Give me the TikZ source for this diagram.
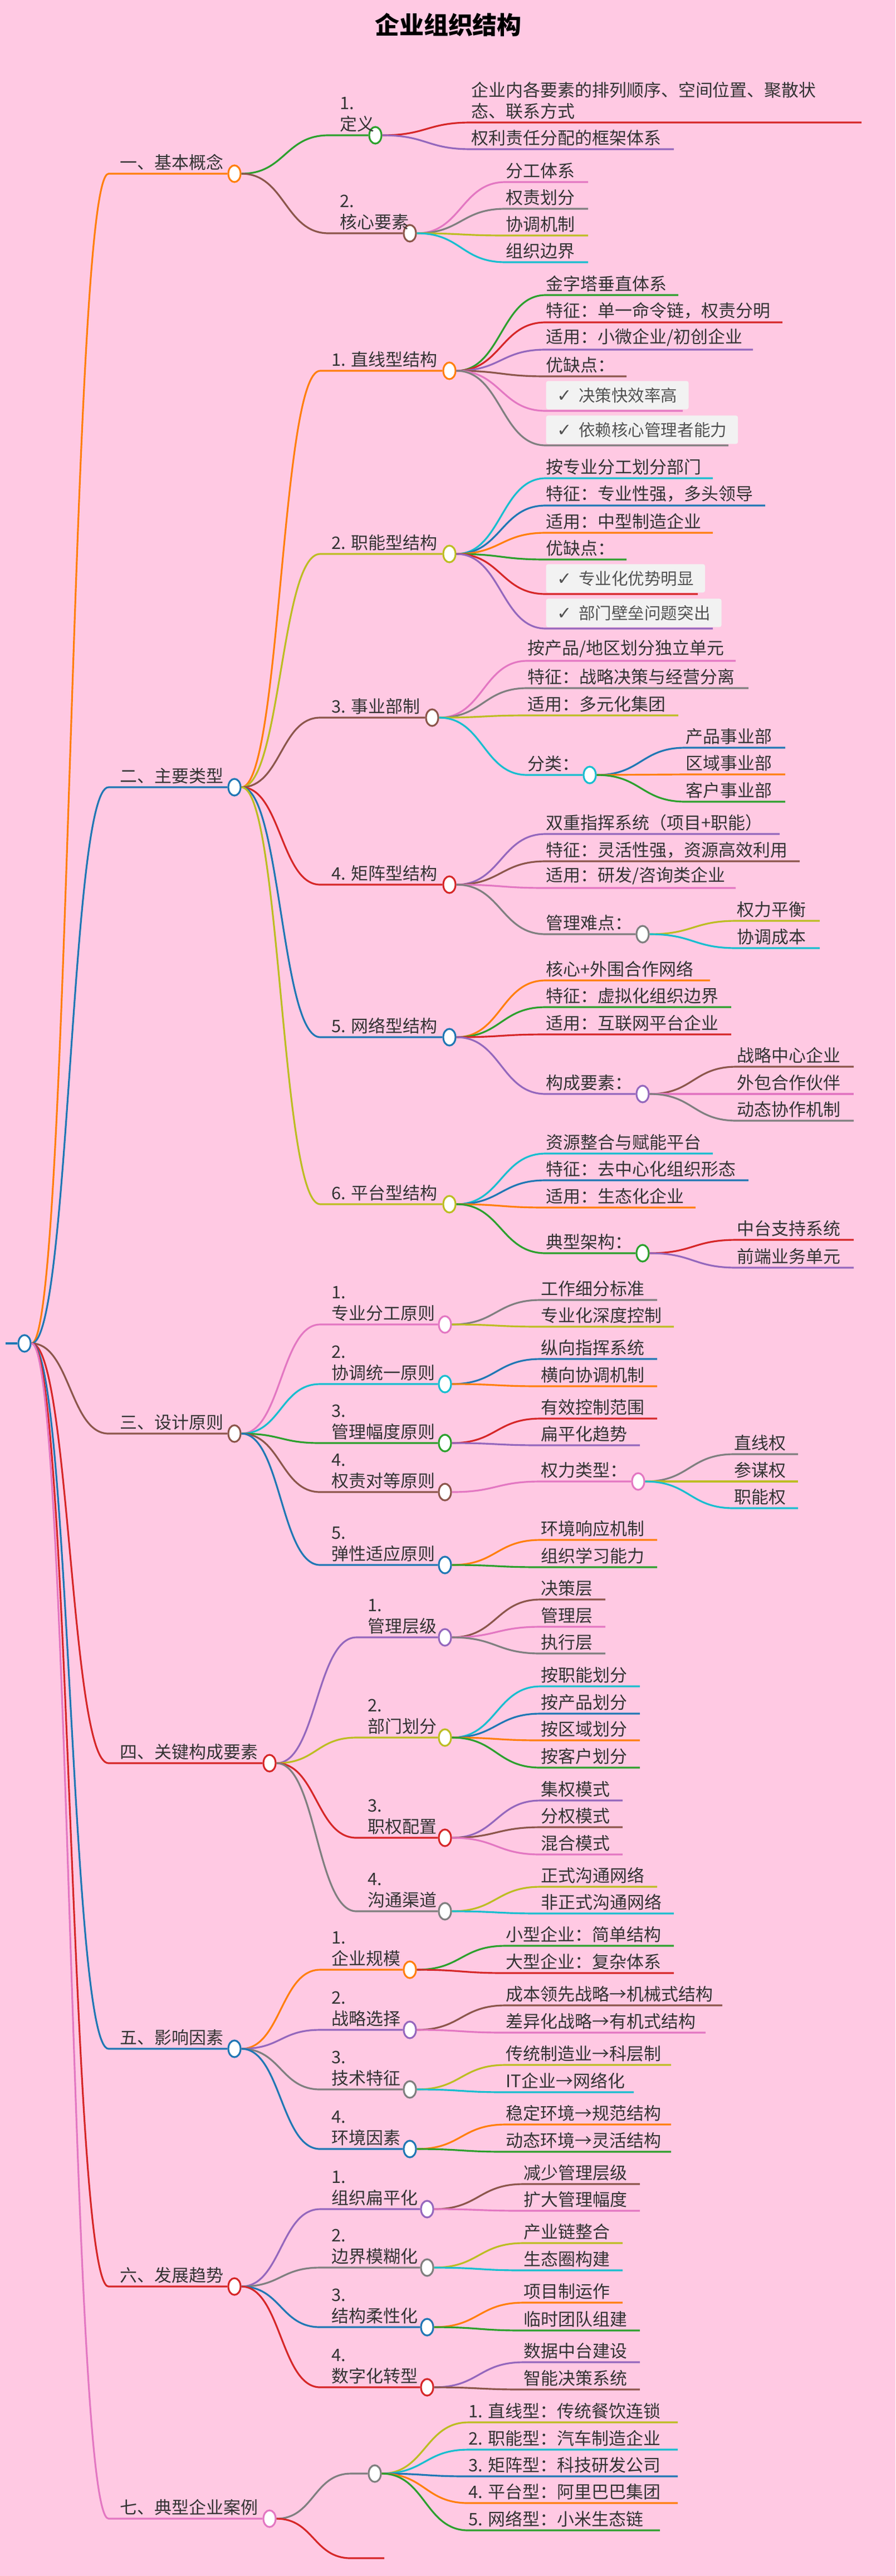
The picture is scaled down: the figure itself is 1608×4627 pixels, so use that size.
\documentclass[tikz,border=0pt]{standalone}
\usepackage{fontspec}
\setmainfont{Noto Sans CJK SC}
\newfontfamily\symfont{DejaVu Sans}
\usetikzlibrary{calc,shapes.geometric}
\definecolor{bgpink}{HTML}{FFC9E3}
\definecolor{txt}{HTML}{333333}
\definecolor{cOrange}{HTML}{FF7F0E}
\definecolor{cBlue}{HTML}{1F77B4}
\definecolor{cGreen}{HTML}{2CA02C}
\definecolor{cRed}{HTML}{D62728}
\definecolor{cPurple}{HTML}{9467BD}
\definecolor{cBrown}{HTML}{8C564B}
\definecolor{cPink}{HTML}{E377C2}
\definecolor{cGray}{HTML}{7F7F7F}
\definecolor{cOlive}{HTML}{BCBD22}
\definecolor{cCyan}{HTML}{17BECF}
\definecolor{boxgray}{HTML}{F2F2F2}

% curve from parent to the start of a branch line
\newcommand\mmcurve[3]{%
  \path ($(#1.east)!0.5!(#2s)$) coordinate (#2m);
  \draw[mmline=#3] (#1.east) .. controls (#2m |- #1.east) and (#2m |- #2s) .. (#2s)}
% hub: parent, name, colour, x start, y, x circle, text
\newcommand\mmhub[7]{%
  \coordinate (#2s) at (#4,#5);
  \node[hub=#3] (#2) at (#6,#5) {};
  \mmcurve{#1}{#2}{#3} -- (#2.west);
  \node[hublabel] at (#2s) {#7};}
\newcommand\mmsubhub[7]{%
  \coordinate (#2s) at (#4,#5);
  \node[hub=#3] (#2) at (#6,#5) {};
  \mmcurve{#1}{#2}{#3} -- (#2.west);
  \node[leaflabel] at (#2s) {#7};}
% leaf: parent, name, colour, x start, y, x end, text
\newcommand\mmleaf[7]{%
  \coordinate (#2s) at (#4,#5);
  \coordinate (#2) at (#6,#5);
  \mmcurve{#1}{#2}{#3} -- (#2);
  \node[leaflabel] at (#2s) {#7};}
\newcommand\mmcheck[7]{%
  \coordinate (#2s) at (#4,#5);
  \coordinate (#2) at (#6,#5);
  \mmcurve{#1}{#2}{#3} -- (#2);
  \node[checkbox] at (#2s) {{\symfont\small ✓}\hspace{0.12cm}#7};}

\begin{document}
\begin{tikzpicture}[
  x=0.01cm, y=-0.01cm,
  mmline/.style={draw=#1, line width=0.9pt},
  hub/.style={ellipse, draw=#1, fill=white, line width=0.9pt,
              minimum width=0.22cm, minimum height=0.3cm, inner sep=0pt},
  leaflabel/.style={anchor=south west, inner xsep=0pt, inner ysep=0.05cm,
              align=left, text=txt, font=\fontsize{8.8}{10.8}\selectfont},
  hublabel/.style={leaflabel, xshift=0.2cm},
  checkbox/.style={anchor=south west, fill=boxgray, rounded corners=1pt,
              minimum height=0.48cm, inner xsep=0.2cm, yshift=0.02cm,
              text=txt!85, font=\fontsize{8.4}{10}\selectfont},
  title/.style={font=\fontsize{12.5}{15}\selectfont\bfseries, text=black}
]
\fill[bgpink] (0,0) rectangle (1608,4627);
\node[title] (head) at (805,45) {企业组织结构};

% --- root ---
\coordinate (rootl) at (10,2413);
\node[hub=cBlue] (root) at (44,2413) {};
\draw[mmline=cBlue] (rootl) -- (root.west);

% --- 一 ---
\mmhub{root}{A}{cOrange}{195}{312}{421}{一、基本概念}
\mmhub{A}{A1}{cGreen}{590}{243}{674}{1.\\定义}
\mmleaf{A1}{A11}{cRed}{846}{220}{1547}{企业内各要素的排列顺序、空间位置、聚散状\\态、联系方式}
\mmleaf{A1}{A12}{cPurple}{846}{268}{1210}{权利责任分配的框架体系}
\mmhub{A}{A2}{cBrown}{590}{419}{736}{2.\\核心要素}
\mmleaf{A2}{A21}{cPink}{908}{327}{1056}{分工体系}
\mmleaf{A2}{A22}{cGray}{908}{375}{1056}{权责划分}
\mmleaf{A2}{A23}{cOlive}{908}{423}{1056}{协调机制}
\mmleaf{A2}{A24}{cCyan}{908}{471}{1056}{组织边界}

% --- 二 ---
\mmhub{root}{B}{cBlue}{195}{1414}{421}{二、主要类型}
\mmhub{B}{B1}{cOrange}{575}{666}{807}{1. 直线型结构}
\mmleaf{B1}{B11}{cGreen}{980}{530}{1218}{金字塔垂直体系}
\mmleaf{B1}{B12}{cRed}{980}{579}{1405}{特征：单一命令链，权责分明}
\mmleaf{B1}{B13}{cPurple}{980}{628}{1352}{适用：小微企业/初创企业}
\mmleaf{B1}{B14}{cBrown}{980}{676}{1125}{优缺点：}
\mmcheck{B1}{B15}{cPink}{980}{738}{1226}{决策快效率高}
\mmcheck{B1}{B16}{cGray}{980}{800}{1308}{依赖核心管理者能力}

\mmhub{B}{B2}{cOlive}{575}{995}{807}{2. 职能型结构}
\mmleaf{B2}{B21}{cCyan}{980}{859}{1280}{按专业分工划分部门}
\mmleaf{B2}{B22}{cBlue}{980}{908}{1374}{特征：专业性强，多头领导}
\mmleaf{B2}{B23}{cOrange}{980}{957}{1280}{适用：中型制造企业}
\mmleaf{B2}{B24}{cGreen}{980}{1005}{1125}{优缺点：}
\mmcheck{B2}{B25}{cRed}{980}{1067}{1253}{专业化优势明显}
\mmcheck{B2}{B26}{cPurple}{980}{1129}{1280}{部门壁垒问题突出}

\mmhub{B}{B3}{cBrown}{575}{1289}{776}{3. 事业部制}
\mmleaf{B3}{B31}{cPink}{947}{1187}{1321}{按产品/地区划分独立单元}
\mmleaf{B3}{B32}{cGray}{947}{1236}{1344}{特征：战略决策与经营分离}
\mmleaf{B3}{B33}{cOlive}{947}{1285}{1218}{适用：多元化集团}
\mmsubhub{B3}{B34}{cCyan}{947}{1392}{1059}{分类：}
\mmleaf{B34}{B341}{cBlue}{1231}{1343}{1410}{产品事业部}
\mmleaf{B34}{B342}{cOrange}{1231}{1391}{1410}{区域事业部}
\mmleaf{B34}{B343}{cGreen}{1231}{1440}{1410}{客户事业部}

\mmhub{B}{B4}{cRed}{575}{1589}{807}{4. 矩阵型结构}
\mmleaf{B4}{B41}{cPurple}{980}{1498}{1400}{双重指挥系统（项目+职能）}
\mmleaf{B4}{B42}{cBrown}{980}{1547}{1436}{特征：灵活性强，资源高效利用}
\mmleaf{B4}{B43}{cPink}{980}{1595}{1321}{适用：研发/咨询类企业}
\mmsubhub{B4}{B44}{cGray}{980}{1678}{1154}{管理难点：}
\mmleaf{B44}{B441}{cOlive}{1323}{1654}{1472}{权力平衡}
\mmleaf{B44}{B442}{cCyan}{1323}{1703}{1472}{协调成本}

\mmhub{B}{B5}{cBlue}{575}{1863}{807}{5. 网络型结构}
\mmleaf{B5}{B51}{cOrange}{980}{1761}{1275}{核心+外围合作网络}
\mmleaf{B5}{B52}{cGreen}{980}{1809}{1313}{特征：虚拟化组织边界}
\mmleaf{B5}{B53}{cRed}{980}{1858}{1313}{适用：互联网平台企业}
\mmsubhub{B5}{B54}{cPurple}{980}{1965}{1154}{构成要素：}
\mmleaf{B54}{B541}{cBrown}{1323}{1916}{1533}{战略中心企业}
\mmleaf{B54}{B542}{cPink}{1323}{1965}{1533}{外包合作伙伴}
\mmleaf{B54}{B543}{cGray}{1323}{2013}{1533}{动态协作机制}

\mmhub{B}{B6}{cOlive}{575}{2163}{807}{6. 平台型结构}
\mmleaf{B6}{B61}{cCyan}{980}{2072}{1280}{资源整合与赋能平台}
\mmleaf{B6}{B62}{cBlue}{980}{2120}{1344}{特征：去中心化组织形态}
\mmleaf{B6}{B63}{cOrange}{980}{2169}{1249}{适用：生态化企业}
\mmsubhub{B6}{B64}{cGreen}{980}{2251}{1154}{典型架构：}
\mmleaf{B64}{B641}{cRed}{1323}{2227}{1533}{中台支持系统}
\mmleaf{B64}{B642}{cPurple}{1323}{2277}{1533}{前端业务单元}

% --- 三 ---
\mmhub{root}{C}{cBrown}{195}{2575}{421}{三、设计原则}
\mmhub{C}{C1}{cPink}{575}{2379}{799}{1.\\专业分工原则}
\mmleaf{C1}{C11}{cGray}{971}{2335}{1180}{工作细分标准}
\mmleaf{C1}{C12}{cOlive}{971}{2383}{1210}{专业化深度控制}
\mmhub{C}{C2}{cCyan}{575}{2486}{799}{2.\\协调统一原则}
\mmleaf{C2}{C21}{cBlue}{971}{2441}{1180}{纵向指挥系统}
\mmleaf{C2}{C22}{cOrange}{971}{2490}{1180}{横向协调机制}
\mmhub{C}{C3}{cGreen}{575}{2592}{799}{3.\\管理幅度原则}
\mmleaf{C3}{C31}{cRed}{971}{2548}{1180}{有效控制范围}
\mmleaf{C3}{C32}{cPurple}{971}{2596}{1149}{扁平化趋势}
\mmhub{C}{C4}{cBrown}{575}{2680}{799}{4.\\权责对等原则}
\mmsubhub{C4}{C41}{cPink}{971}{2661}{1146}{权力类型：}
\mmleaf{C41}{C411}{cGray}{1318}{2612}{1433}{直线权}
\mmleaf{C41}{C412}{cOlive}{1318}{2661}{1433}{参谋权}
\mmleaf{C41}{C413}{cCyan}{1318}{2709}{1433}{职能权}
\mmhub{C}{C5}{cBlue}{575}{2811}{799}{5.\\弹性适应原则}
\mmleaf{C5}{C51}{cOrange}{971}{2766}{1180}{环境响应机制}
\mmleaf{C5}{C52}{cGreen}{971}{2815}{1180}{组织学习能力}

% --- 四 ---
\mmhub{root}{D}{cRed}{195}{3167}{484}{四、关键构成要素}
\mmhub{D}{D1}{cPurple}{640}{2941}{799}{1.\\管理层级}
\mmleaf{D1}{D11}{cBrown}{971}{2873}{1087}{决策层}
\mmleaf{D1}{D12}{cPink}{971}{2922}{1087}{管理层}
\mmleaf{D1}{D13}{cGray}{971}{2970}{1087}{执行层}
\mmhub{D}{D2}{cOlive}{640}{3121}{799}{2.\\部门划分}
\mmleaf{D2}{D21}{cCyan}{971}{3029}{1149}{按职能划分}
\mmleaf{D2}{D22}{cBlue}{971}{3078}{1149}{按产品划分}
\mmleaf{D2}{D23}{cOrange}{971}{3126}{1149}{按区域划分}
\mmleaf{D2}{D24}{cGreen}{971}{3175}{1149}{按客户划分}
\mmhub{D}{D3}{cRed}{640}{3301}{799}{3.\\职权配置}
\mmleaf{D3}{D31}{cPurple}{971}{3234}{1118}{集权模式}
\mmleaf{D3}{D32}{cBrown}{971}{3282}{1118}{分权模式}
\mmleaf{D3}{D33}{cPink}{971}{3331}{1118}{混合模式}
\mmhub{D}{D4}{cGray}{640}{3433}{799}{4.\\沟通渠道}
\mmleaf{D4}{D41}{cOlive}{971}{3389}{1180}{正式沟通网络}
\mmleaf{D4}{D42}{cCyan}{971}{3437}{1210}{非正式沟通网络}

% --- 五 ---
\mmhub{root}{E}{cBlue}{195}{3680}{421}{五、影响因素}
\mmhub{E}{E1}{cOrange}{575}{3538}{736}{1.\\企业规模}
\mmleaf{E1}{E11}{cGreen}{908}{3495}{1210}{小型企业：简单结构}
\mmleaf{E1}{E12}{cRed}{908}{3544}{1210}{大型企业：复杂体系}
\mmhub{E}{E2}{cPurple}{575}{3646}{736}{2.\\战略选择}
\mmleaf{E2}{E21}{cBrown}{908}{3602}{1297}{成本领先战略→机械式结构}
\mmleaf{E2}{E22}{cPink}{908}{3651}{1267}{差异化战略→有机式结构}
\mmhub{E}{E3}{cGray}{575}{3753}{736}{3.\\技术特征}
\mmleaf{E3}{E31}{cOlive}{908}{3709}{1205}{传统制造业→科层制}
\mmleaf{E3}{E32}{cCyan}{908}{3758}{1138}{IT企业→网络化}
\mmhub{E}{E4}{cBlue}{575}{3860}{736}{4.\\环境因素}
\mmleaf{E4}{E41}{cOrange}{908}{3816}{1205}{稳定环境→规范结构}
\mmleaf{E4}{E42}{cGreen}{908}{3865}{1205}{动态环境→灵活结构}

% --- 六 ---
\mmhub{root}{F}{cRed}{195}{4107}{421}{六、发展趋势}
\mmhub{F}{F1}{cPurple}{575}{3968}{767}{1.\\组织扁平化}
\mmleaf{F1}{F11}{cBrown}{940}{3923}{1149}{减少管理层级}
\mmleaf{F1}{F12}{cPink}{940}{3971}{1149}{扩大管理幅度}
\mmhub{F}{F2}{cGray}{575}{4073}{767}{2.\\边界模糊化}
\mmleaf{F2}{F21}{cOlive}{940}{4029}{1118}{产业链整合}
\mmleaf{F2}{F22}{cCyan}{940}{4078}{1118}{生态圈构建}
\mmhub{F}{F3}{cBlue}{575}{4180}{767}{3.\\结构柔性化}
\mmleaf{F3}{F31}{cOrange}{940}{4136}{1118}{项目制运作}
\mmleaf{F3}{F32}{cGreen}{940}{4186}{1149}{临时团队组建}
\mmhub{F}{F4}{cRed}{575}{4288}{767}{4.\\数字化转型}
\mmleaf{F4}{F41}{cPurple}{940}{4243}{1149}{数据中台建设}
\mmleaf{F4}{F42}{cBrown}{940}{4292}{1149}{智能决策系统}

% --- 七 ---
\mmhub{root}{G}{cPink}{195}{4524}{484}{七、典型企业案例}
\mmhub{G}{G1}{cGray}{630}{4443}{673}{}
\mmleaf{G1}{G11}{cOlive}{841}{4351}{1217}{1. 直线型：传统餐饮连锁}
\mmleaf{G1}{G12}{cCyan}{841}{4400}{1217}{2. 职能型：汽车制造企业}
\mmleaf{G1}{G13}{cBlue}{841}{4448}{1217}{3. 矩阵型：科技研发公司}
\mmleaf{G1}{G14}{cOrange}{841}{4496}{1217}{4. 平台型：阿里巴巴集团}
\mmleaf{G1}{G15}{cGreen}{841}{4545}{1185}{5. 网络型：小米生态链}
\mmleaf{G}{G2}{cRed}{630}{4595}{690}{}

\end{tikzpicture}
\end{document}
